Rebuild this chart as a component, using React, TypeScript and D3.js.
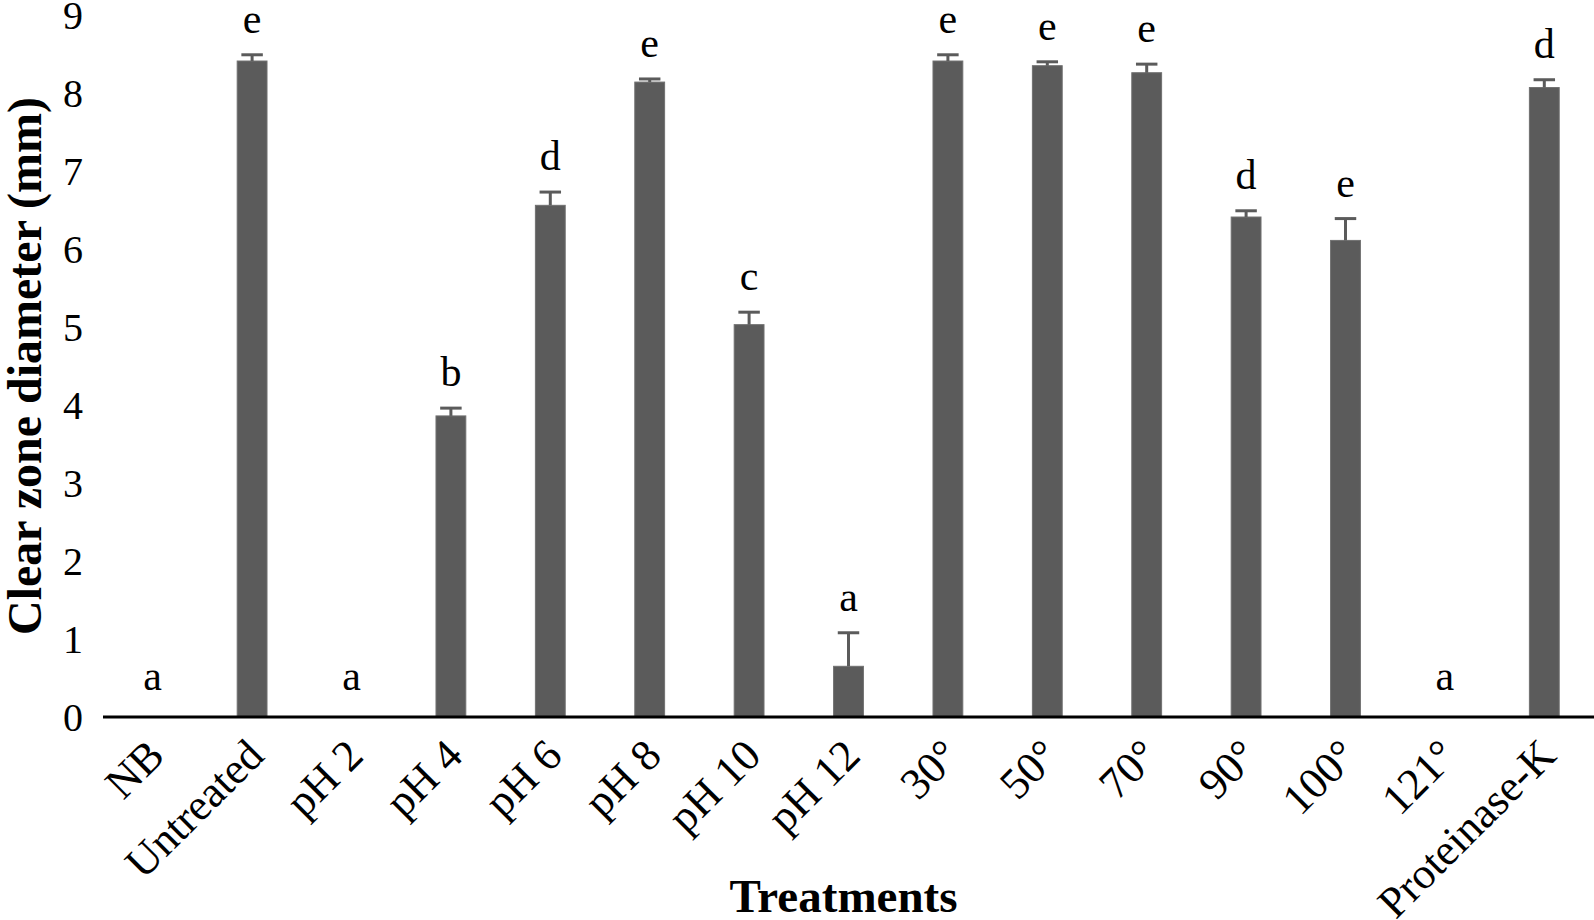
import React from "react";
import * as d3 from "d3";

const categories = ["NB", "Untreated", "pH 2", "pH 4", "pH 6", "pH 8", "pH 10", "pH 12", "30°", "50°", "70°", "90°", "100°", "121°", "Proteinase-K"];
const means = [0, 8.41, 0, 3.86, 6.56, 8.14, 5.03, 0.65, 8.41, 8.35, 8.26, 6.41, 6.11, 0, 8.07];
const errors = [0, 0.08, 0, 0.10, 0.17, 0.04, 0.16, 0.43, 0.08, 0.05, 0.11, 0.08, 0.28, 0, 0.10];
const letters = ["a", "e", "a", "b", "d", "e", "c", "a", "e", "e", "e", "d", "e", "a", "d"];
const yTicks = [0, 1, 2, 3, 4, 5, 6, 7, 8, 9];

const W = 1594;
const H = 920;
const left = 103;
const right = 1594;
const top = 15;
const bottom = 717;
const FONT = "'Liberation Serif', 'Times New Roman', serif";
const BAR = "#5b5b5b";

export default function App() {
  const x = d3.scaleBand<string>().domain(categories).range([left, right]).paddingInner(0.7).paddingOuter(0.35);
  const y = d3.scaleLinear().domain([0, 9]).range([bottom, top]);
  const bw = x.bandwidth();
  const capW = bw * 0.72;

  return (
    <svg width={W} height={H} style={{ position: "absolute", left: 0, top: 0, background: "#fff" }} fontFamily={FONT}>
      <rect x={0} y={0} width={W} height={H} fill="#fff" />
      {/* y tick labels */}
      {yTicks.map((t) => (
        <text key={t} x={83} y={y(t)} dy="0.35em" textAnchor="end" fontSize={40} fill="#000">
          {t}
        </text>
      ))}
      {/* bars */}
      {categories.map((c, i) => {
        const x0 = x(c)!;
        const cx = x0 + bw / 2;
        const v = means[i];
        const e = errors[i];
        return (
          <g key={c}>
            {v > 0 && <rect x={x0} y={y(v)} width={bw} height={y(0) - y(v)} fill={BAR} stroke="#707070" strokeWidth={1} />}
            {e > 0 && (
              <g stroke={BAR} strokeWidth={3}>
                <line x1={cx} x2={cx} y1={y(v)} y2={y(v + e)} />
                <line x1={cx - capW / 2} x2={cx + capW / 2} y1={y(v + e)} y2={y(v + e)} />
              </g>
            )}
            <text x={cx} y={v > 0 ? y(v + e) - 22 : y(0) - 27} textAnchor="middle" fontSize={42} fill="#000">
              {letters[i]}
            </text>
            <text
              transform={`translate(${cx + 3},${bottom + 30}) rotate(-45)`}
              textAnchor="end"
              dy="0.35em"
              fontSize={44}
              fill="#000"
            >
              {c}
            </text>
          </g>
        );
      })}
      {/* x axis line */}
      <line x1={left} x2={right} y1={bottom} y2={bottom} stroke="#000" strokeWidth={3} />
      {/* axis titles */}
      <text
        transform={`translate(${41},${(top + bottom) / 2}) rotate(-90)`}
        textAnchor="middle"
        fontSize={48}
        fontWeight="bold"
        fill="#000"
      >
        Clear zone diameter (mm)
      </text>
      <text x={(left + right) / 2 - 5} y={912} textAnchor="middle" fontSize={47} fontWeight="bold" fill="#000">
        Treatments
      </text>
    </svg>
  );
}
